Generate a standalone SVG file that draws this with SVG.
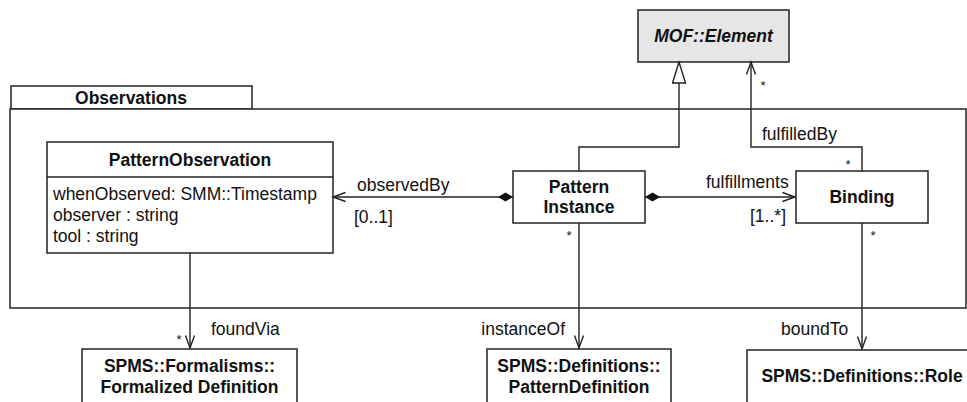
<svg xmlns="http://www.w3.org/2000/svg" width="967" height="402" viewBox="0 0 967 402">
<style>
text{font-family:"Liberation Sans",Arial,sans-serif;fill:#111}
.t{font-size:17.5px}
.b{font-size:17.5px;font-weight:bold}
.s{font-size:13px}
.box{fill:#fff;stroke:#222;stroke-width:1.5}
.ln{fill:none;stroke:#222;stroke-width:1.4}
</style>
<defs>
<marker id="open" viewBox="0 0 13 10" refX="12.5" refY="5" markerWidth="13" markerHeight="10" markerUnits="userSpaceOnUse" orient="auto" overflow="visible">
<path d="M0,0.5 L12.5,5 L0,9.5" fill="none" stroke="#222" stroke-width="1.4"/>
</marker>
<marker id="diamond" viewBox="0 0 15 10" refX="0" refY="5" markerWidth="15" markerHeight="10" markerUnits="userSpaceOnUse" orient="auto">
<path d="M0,5 L7.5,0.5 L15,5 L7.5,9.5 z" fill="#111" stroke="none"/>
</marker>
<marker id="gen" viewBox="-1 -1 23 15" refX="21" refY="6.5" markerWidth="23" markerHeight="15" markerUnits="userSpaceOnUse" orient="auto">
<path d="M0,0 L21,6.5 L0,13 z" fill="#fff" stroke="#222" stroke-width="1.4"/>
</marker>
</defs>

<g id="package-observations">
<rect class="box" x="11" y="86" width="241" height="23"/>
<rect class="box" x="10" y="109" width="956" height="199" fill="none"/>
<text class="b" x="131" y="104" text-anchor="middle">Observations</text>
</g>

<g id="mof-element">
<rect class="box" x="638" y="10" width="151" height="52" style="fill:#e6e6e6"/>
<text class="b" x="713.5" y="42" text-anchor="middle" font-style="italic">MOF::Element</text>
</g>

<g id="pattern-observation">
<rect class="box" x="47" y="142" width="286" height="111"/>
<line class="ln" x1="47" y1="177" x2="333" y2="177"/>
<text class="b" x="190" y="166" text-anchor="middle">PatternObservation</text>
<text class="t" x="53" y="200">whenObserved: SMM::Timestamp</text>
<text class="t" x="53" y="221">observer : string</text>
<text class="t" x="53" y="242">tool : string</text>
</g>

<g id="pattern-instance">
<rect class="box" x="513" y="171" width="132" height="52"/>
<text class="b" x="579" y="193" text-anchor="middle">Pattern</text>
<text class="b" x="579" y="213" text-anchor="middle">Instance</text>
</g>

<g id="binding">
<rect class="box" x="796" y="171" width="132" height="52"/>
<text class="b" x="862" y="203" text-anchor="middle">Binding</text>
</g>

<g id="formalized-definition">
<rect class="box" x="82" y="349" width="215" height="70"/>
<text class="b" x="189.5" y="372" text-anchor="middle">SPMS::Formalisms::</text>
<text class="b" x="189.5" y="393" text-anchor="middle">Formalized Definition</text>
</g>

<g id="pattern-definition">
<rect class="box" x="487" y="349" width="184" height="70"/>
<text class="b" x="579" y="372" text-anchor="middle">SPMS::Definitions::</text>
<text class="b" x="579" y="393" text-anchor="middle">PatternDefinition</text>
</g>

<g id="role">
<rect class="box" x="747" y="350" width="240" height="70"/>
<text class="b" x="862" y="382" text-anchor="middle">SPMS::Definitions::Role</text>
</g>

<g id="connectors">
<path class="ln" d="M579,171 L579,147 L679,147 L679,62" marker-end="url(#gen)"/>
<path class="ln" d="M862,171 L862,147 L751,147 L751,62" marker-end="url(#open)"/>
<path class="ln" d="M513,197 L333,197" marker-start="url(#diamond)" marker-end="url(#open)"/>
<path class="ln" d="M645,197 L795,197" marker-start="url(#diamond)" marker-end="url(#open)"/>
<path class="ln" d="M190,253 L190,348" marker-end="url(#open)"/>
<path class="ln" d="M579,223 L579,348" marker-end="url(#open)"/>
<path class="ln" d="M862,223 L862,349" marker-end="url(#open)"/>

<text class="t" x="357" y="191">observedBy</text>
<text class="t" x="354" y="223">[0..1]</text>
<text class="t" x="706" y="188">fulfillments</text>
<text class="t" x="786" y="222" text-anchor="end">[1..*]</text>
<text class="t" x="762" y="140">fulfilledBy</text>
<text class="s" x="763" y="90" text-anchor="middle">*</text>
<text class="s" x="848" y="169" text-anchor="middle">*</text>
<text class="s" x="569" y="240" text-anchor="middle">*</text>
<text class="s" x="873" y="240" text-anchor="middle">*</text>
<text class="s" x="179" y="344" text-anchor="middle">*</text>
<text class="t" x="211" y="335">foundVia</text>
<text class="t" x="565" y="335" text-anchor="end">instanceOf</text>
<text class="t" x="781" y="335">boundTo</text>
</g>
</svg>
